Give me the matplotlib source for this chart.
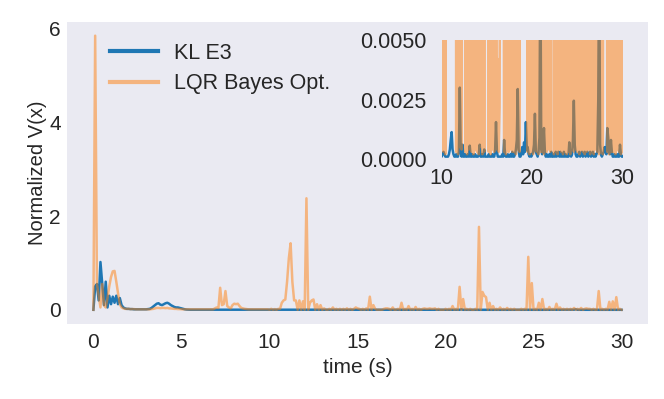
import numpy as np
import matplotlib.pyplot as plt

# ------------------- style -------------------
plt.rcParams["font.family"] = ["Liberation Sans", "DejaVu Sans"]
plt.rcParams["text.color"] = "#262626"
plt.rcParams["axes.labelcolor"] = "#262626"
plt.rcParams["xtick.color"] = "#262626"
plt.rcParams["ytick.color"] = "#262626"
plt.rcParams["axes.facecolor"] = "#EAEAF2"

# ------------------- data (sampled every 0.1 s, one row per second) -------------------
kl_e3_rows = [
    [0.0, 0.5, 0.55, 0.2, 1.02, 0.55, 0.1, 0.6, 0.05, 0.3],
    [0.12, 0.28, 0.15, 0.3, 0.12, 0.25, 0.1, 0.05, 0.03, 0.02],
    [0.02, 0.015, 0.015, 0.01, 0.01, 0.01, 0.01, 0.01, 0.01, 0.01],
    [0.01, 0.015, 0.02, 0.04, 0.07, 0.1, 0.13, 0.14, 0.11, 0.1],
    [0.12, 0.14, 0.15, 0.13, 0.1, 0.08, 0.06, 0.05, 0.05, 0.04],
    [0.03, 0.02, 0.01, 0.005, 0.003, 0.002, 0.002, 0.001, 0.001, 0.001],
    [0.001, 0.0008, 0.0006, 0.0008, 0.0005, 0.0006, 0.0005, 0.0004, 0.0005, 0.0004],
    [0.0004, 0.0003, 0.0005, 0.0004, 0.0003, 0.0004, 0.0003, 0.0003, 0.0004, 0.0003],
    [0.0003, 0.0002, 0.0003, 0.0002, 0.0003, 0.0002, 0.0002, 0.0003, 0.0002, 0.0002],
    [0.0002, 0.0001, 0.0002, 0.0001, 0.0002, 0.0001, 0.0001, 0.0002, 0.0001, 0.0001],
    [0.0001, 0.0002, 0.0003, 0.0002, 0.0001, 0.0001, 0.0001, 0.0001, 0.0002, 0.0004],
    [0.0008, 0.00113, 0.0004, 0.0002, 0.0001, 0.0001, 0.0002, 0.0001, 0.0001, 0.0003],
    [0.003, 0.0003, 0.0001, 0.0006, 0.0001, 0.0001, 0.0002, 0.0001, 0.0001, 0.0002],
    [0.0001, 0.00056, 0.0001, 0.0001, 0.0002, 0.0001, 0.0001, 0.0002, 0.0001, 0.0001],
    [0.0001, 0.0002, 0.0006, 0.0001, 0.0001, 0.0002, 0.0001, 0.0004, 0.0001, 0.0001],
    [0.0001, 0.0001, 0.0002, 0.0001, 0.0001, 0.0001, 0.0002, 0.0001, 0.0001, 0.0003],
    [0.00155, 0.0003, 0.0001, 0.0001, 0.0001, 0.0001, 0.0001, 0.0002, 0.0001, 0.0008],
    [0.0002, 0.0001, 0.0001, 0.0002, 0.0001, 0.0001, 0.0002, 0.0001, 0.0003, 0.0001],
    [0.0001, 0.0002, 0.0004, 0.0008, 0.00294, 0.0004, 0.0001, 0.0001, 0.0002, 0.0005],
    [0.0002, 0.0007, 0.0003, 0.00155, 0.0004, 0.0005, 0.0002, 0.0001, 0.0002, 0.0001],
    [0.0002, 0.0003, 0.0006, 0.0019, 0.0003, 0.0002, 0.0001, 0.0003, 0.0009, 0.009],
    [0.0004, 0.0002, 0.0005, 0.0013, 0.0003, 0.0001, 0.0002, 0.0001, 0.0001, 0.0002],
    [0.0001, 0.0003, 0.0001, 0.0001, 0.0002, 0.0001, 0.0003, 0.0001, 0.0002, 0.0003],
    [0.0001, 0.0003, 0.0001, 0.0002, 0.0001, 0.0003, 0.0001, 0.0002, 0.0001, 0.0001],
    [0.0001, 0.0007, 0.0002, 0.0001, 0.0002, 0.0008, 0.00245, 0.0006, 0.0002, 0.0001],
    [0.0001, 0.0002, 0.0003, 0.0001, 0.0002, 0.0003, 0.0001, 0.0002, 0.0003, 0.0001],
    [0.0002, 0.0003, 0.0001, 0.0002, 0.0003, 0.0001, 0.0002, 0.0003, 0.0001, 0.0002],
    [0.0001, 0.0002, 0.0003, 0.0025, 0.009, 0.0006, 0.0002, 0.0001, 0.0002, 0.0003],
    [0.0005, 0.0003, 0.0002, 0.0013, 0.0009, 0.0003, 0.0002, 0.0008, 0.0003, 0.0001],
    [0.0001, 0.0002, 0.0001, 0.0001, 0.0002, 0.0001, 0.0001, 0.0006, 0.0002, 0.0001],
]
kl_e3_last = 0.0001

lqr_rows = [
    [0.0, 5.85, 0.55, 0.3, 0.05, 0.55, 0.1, 0.05, 0.25, 0.5],
    [0.7, 0.82, 0.83, 0.6, 0.35, 0.12, 0.05, 0.03, 0.02, 0.02],
    [0.02, 0.015, 0.015, 0.015, 0.01, 0.01, 0.01, 0.01, 0.01, 0.01],
    [0.01, 0.01, 0.01, 0.015, 0.02, 0.03, 0.04, 0.04, 0.035, 0.04],
    [0.04, 0.035, 0.04, 0.03, 0.03, 0.025, 0.02, 0.02, 0.015, 0.015],
    [0.012, 0.01, 0.01, 0.01, 0.008, 0.008, 0.01, 0.008, 0.008, 0.008],
    [0.008, 0.008, 0.01, 0.01, 0.008, 0.01, 0.01, 0.012, 0.01, 0.03],
    [0.05, 0.04, 0.47, 0.1, 0.12, 0.4, 0.08, 0.05, 0.03, 0.1],
    [0.13, 0.12, 0.13, 0.08, 0.04, 0.03, 0.02, 0.015, 0.01, 0.01],
    [0.01, 0.008, 0.01, 0.008, 0.01, 0.008, 0.01, 0.008, 0.01, 0.01],
    [0.0012, 0.02, 0.0003, 0.015, 0.0002, 0.02, 0.02, 0.15, 0.2, 0.22],
    [0.6, 1.1, 1.42, 0.6, 0.2, 0.2, 0.0003, 0.2, 0.0002, 0.18],
    [0.0005, 2.38, 0.0004, 0.15, 0.2, 0.22, 0.0003, 0.12, 0.0002, 0.1],
    [0.0004, 0.03, 0.004, 0.0003, 0.02, 0.0002, 0.05, 0.0004, 0.02, 0.0003],
    [0.02, 0.0002, 0.02, 0.0005, 0.03, 0.0002, 0.02, 0.0003, 0.02, 0.05],
    [0.03, 0.02, 0.0003, 0.02, 0.0002, 0.03, 0.0004, 0.28, 0.0003, 0.1],
    [0.02, 0.0004, 0.0042, 0.0003, 0.0022, 0.02, 0.03, 0.03, 0.02, 0.0003],
    [0.05, 0.0002, 0.004, 0.02, 0.0003, 0.15, 0.0004, 0.02, 0.0003, 0.08],
    [0.0003, 0.02, 0.0002, 0.06, 0.0004, 0.02, 0.0003, 0.02, 0.03, 0.02],
    [0.02, 0.03, 0.02, 0.02, 0.03, 0.0003, 0.02, 0.0002, 0.0027, 0.0003],
    [0.02, 0.0002, 0.02, 0.0004, 0.08, 0.0003, 0.02, 0.0002, 0.49, 0.0003],
    [0.23, 0.0003, 0.02, 0.0002, 0.02, 0.0004, 0.0003, 0.02, 0.0004, 1.77],
    [0.0003, 0.38, 0.3, 0.27, 0.0002, 0.15, 0.0003, 0.08, 0.0002, 0.02],
    [0.0004, 0.05, 0.0003, 0.02, 0.0002, 0.04, 0.0003, 0.02, 0.0002, 0.02],
    [0.0003, 0.003, 0.0002, 0.02, 0.0004, 0.02, 0.0003, 1.13, 0.0004, 0.57],
    [0.0003, 0.02, 0.0002, 0.15, 0.0004, 0.23, 0.0003, 0.02, 0.0002, 0.06],
    [0.0003, 0.02, 0.0004, 0.13, 0.0002, 0.05, 0.0003, 0.02, 0.0002, 0.02],
    [0.0004, 0.02, 0.0003, 0.04, 0.0002, 0.02, 0.0003, 0.04, 0.0002, 0.02],
    [0.03, 0.02, 0.02, 0.0003, 0.02, 0.0002, 0.004, 0.4, 0.0003, 0.02],
    [0.0003, 0.02, 0.0002, 0.17, 0.0004, 0.18, 0.0003, 0.27, 0.0002, 0.02],
]
lqr_last = 0.0003

kl_e3 = np.append(np.ravel(kl_e3_rows), kl_e3_last)
lqr = np.append(np.ravel(lqr_rows), lqr_last)
t = np.linspace(0, 30, len(kl_e3))

blue = "#1f77b4"
orange = "#ff7f0e"

# ------------------- plot -------------------
fig = plt.figure(figsize=(6.64, 3.99), dpi=100)
ax = fig.add_axes([67 / 664, (399 - 323.5) / 399, 581 / 664, 301.5 / 399])
ax.plot(t, kl_e3, color=blue, lw=1.8, label="KL E3")
ax.plot(t, lqr, color=orange, lw=1.8, alpha=0.5, label="LQR Bayes Opt.")

ax.set_xticks([0, 5, 10, 15, 20, 25, 30])
ax.set_yticks([0, 2, 4, 6])
ax.tick_params(axis="x", length=0, pad=6.5, labelsize=15)
ax.tick_params(axis="y", length=0, pad=4.5, labelsize=15)
for s in ax.spines.values():
    s.set_visible(False)
ax.set_xlabel("time (s)", fontsize=15, labelpad=5)
ax.set_ylabel("Normalized V(x)", fontsize=14.5, labelpad=1.5)

leg = ax.legend(loc="upper left", bbox_to_anchor=(0.06, 0.96), borderaxespad=0,
                frameon=False, fontsize=15.5, handlelength=2.2, handletextpad=0.75,
                labelspacing=0.45)
for line in leg.get_lines():
    line.set_linewidth(3)

# inset zoom on the late part of the run
axins = fig.add_axes([441.7 / 664, (399 - 159) / 399, 181 / 664, 119 / 399])
axins.plot(t, kl_e3, color=blue, lw=1.8)
axins.plot(t, lqr, color=orange, lw=1.8, alpha=0.5)
axins.set_xlim(10, 30)
axins.set_ylim(0, 0.005)
axins.set_xticks([10, 20, 30])
axins.set_yticks([0, 0.0025, 0.005])
axins.set_yticklabels(["0.0000", "0.0025", "0.0050"])
axins.tick_params(axis="x", length=0, pad=6.5, labelsize=15.5)
axins.tick_params(axis="y", length=0, pad=11, labelsize=15.5)
for s in axins.spines.values():
    s.set_visible(False)

plt.savefig("out.png", dpi=100)
